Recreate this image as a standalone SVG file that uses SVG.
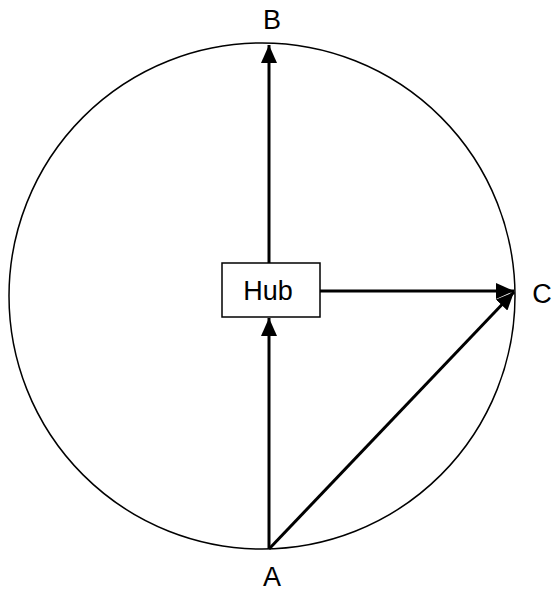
<svg xmlns="http://www.w3.org/2000/svg" width="554" height="591" viewBox="0 0 554 591">
<style>
.lbl{font-family:"Liberation Sans",Arial,sans-serif;font-size:27px;fill:#000;text-anchor:middle}
.edge{stroke:#000;stroke-width:3;fill:none}
</style>
<defs>
<marker id="arr" markerUnits="userSpaceOnUse" markerWidth="20" markerHeight="16" refX="18" refY="8" orient="auto">
<path d="M0,0 L18,8 L0,16 Z" fill="#000"/>
</marker>
</defs>
<rect width="554" height="591" fill="#fff"/>
<g id="ring"><circle cx="262" cy="296" r="253" fill="none" stroke="#000" stroke-width="1.5"/></g>
<g id="connectors">
<line class="edge" x1="269" y1="263" x2="269" y2="45" marker-end="url(#arr)"/>
<line class="edge" x1="269" y1="549" x2="269" y2="318" marker-end="url(#arr)"/>
<line class="edge" x1="320" y1="291" x2="514" y2="291" marker-end="url(#arr)"/>
<line class="edge" x1="269" y1="549" x2="514" y2="292" marker-end="url(#arr)"/>
</g>
<g id="hub"><rect x="222" y="263" width="98" height="54" fill="#fff" stroke="#000" stroke-width="1.5"/><text class="lbl" x="268" y="300">Hub</text></g>
<g id="B"><text class="lbl" x="272" y="29">B</text></g>
<g id="C"><text class="lbl" x="542" y="303">C</text></g>
<g id="A"><text class="lbl" x="272" y="586">A</text></g>
</svg>
